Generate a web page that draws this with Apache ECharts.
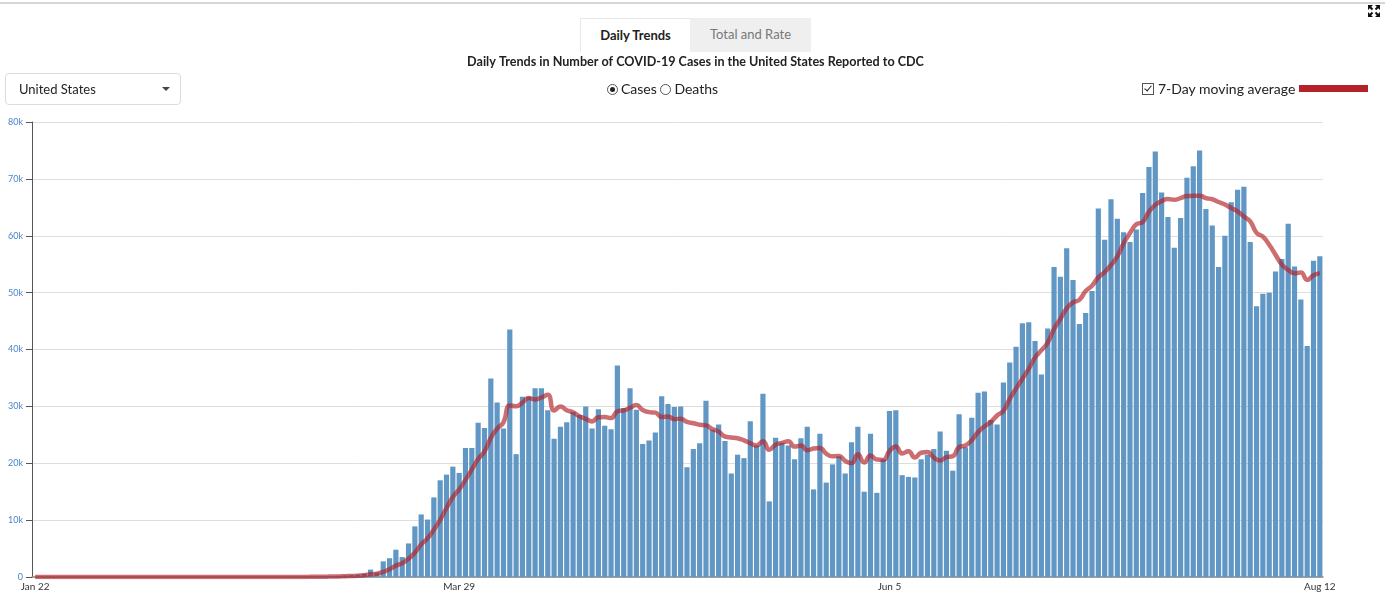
<!DOCTYPE html>
<html>
<head>
<meta charset="utf-8">
<title>Daily Trends in Number of COVID-19 Cases</title>
<script src="https://cdn.jsdelivr.net/npm/echarts@6/dist/echarts.min.js"></script>
<style>
  html, body { margin: 0; padding: 0; background: #fff; }
  body { font-family: Lato, 'Open Sans', sans-serif; color: #333; }
  #page { position: relative; width: 1391px; height: 594px; overflow: hidden; }
  #chart { position: absolute; left: 0; top: 0; width: 1391px; height: 594px; }
  .abs { position: absolute; z-index: 5; }
  .topline { left: 0; top: 2px; width: 1385px; height: 2px; background: #d6d6d6; }
  .tab-on { left: 580px; top: 18px; width: 109px; height: 33px; border: 1px solid #e8e8e8; border-bottom: none;
    background: #fff; font-weight: bold; font-size: 13px; line-height: 33px; text-align: center; color: #222; }
  .tab-off { left: 690px; top: 18px; width: 121px; height: 34px; background: #efefef; color: #777;
    font-size: 13px; line-height: 33px; text-align: center; }
  .select { left: 5px; top: 73px; width: 174px; height: 30px; border: 1px solid #dcdcdc; border-radius: 4px;
    font-size: 13px; line-height: 30px; box-sizing: content-box; }
  .select span { position: absolute; left: 13px; color: #222; }
  .select i { position: absolute; left: 156px; top: 13px; width: 0; height: 0;
    border-left: 4px solid transparent; border-right: 4px solid transparent; border-top: 4px solid #444; }
  .radios { left: 607px; top: 80px; font-size: 14px; line-height: 18px; color: #222; white-space: nowrap; }
  .radio { display: inline-block; width: 9px; height: 9px; border: 1px solid #555; border-radius: 50%;
    vertical-align: -1px; position: relative; margin-right: 3px; }
  .radio.on::after { content: ''; position: absolute; left: 2px; top: 2px; width: 5px; height: 5px;
    border-radius: 50%; background: #222; }
  .avg { left: 1142px; top: 80px; font-size: 14px; line-height: 18px; color: #222; white-space: nowrap; }
  .check { display: inline-block; width: 10px; height: 10px; border: 1px solid #555; vertical-align: -1px;
    position: relative; margin-right: 4px; }
  .check::after { content: ''; position: absolute; left: 3px; top: 0px; width: 3px; height: 6px;
    border-right: 1.6px solid #222; border-bottom: 1.6px solid #222; transform: rotate(40deg); }
  .swatch { left: 1299px; top: 85px; width: 69px; height: 7px; background: #b22228; }
  .expand { left: 1367px; top: 4px; }
</style>
</head>
<body>
<div id="page">
  <div id="chart"></div>
  <div class="abs topline"></div>
  <div class="abs tab-on">Daily Trends</div>
  <div class="abs tab-off">Total and Rate</div>
  <div class="abs select"><span>United States</span><i></i></div>
  <div class="abs radios"><span class="radio on"></span>Cases <span class="radio"></span>Deaths</div>
  <div class="abs avg"><span class="check"></span>7-Day moving average</div>
  <div class="abs swatch"></div>
  <svg class="abs expand" width="14" height="14" viewBox="0 0 14 14">
    <g stroke="#111" stroke-width="2" fill="none">
      <path d="M2 2 L5.5 5.5 M12 2 L8.5 5.5 M2 12 L5.5 8.5 M12 12 L8.5 8.5"/>
    </g>
    <g fill="#111">
      <path d="M1 1 H6 L1 6 Z M13 1 V6 L8 1 Z M1 13 V8 L6 13 Z M13 13 H8 L13 8 Z"/>
    </g>
  </svg>
</div>
<script>
// daily reported cases, Jan 22 - Aug 12 2020
const janCases = [1, 0, 0, 1, 1, 0, 0, 0, 0, 1]
const febCases = [0, 1, 0, 0, 1, 0, 0, 0, 0, 0, 1, 0, 0, 0, 0, 0, 0, 0, 0, 0,
  0, 3, 0, 0, 1, 0, 2, 1, 2]
const marCases = [10, 20, 25, 30, 50, 70, 100, 120, 160, 210, 270, 330, 420, 600, 1300, 800,
  2750, 3300, 4800, 3500, 5900, 8900, 11000, 10100, 14000, 17000, 18000, 19400, 18300, 22700, 22700]
const aprCases = [27100, 26200, 34900, 30700, 26100, 43500, 21600, 31700, 31700, 33200,
  33200, 29300, 24300, 26400, 27200, 29000, 28500, 30000, 26100, 29500,
  26600, 26000, 37200, 29700, 33200, 29400, 23400, 24000, 25400, 31800]
const mayCases = [30400, 29900, 30000, 19300, 22500, 23500, 31000, 25900, 26800, 23900,
  18200, 21500, 20900, 27400, 23100, 32200, 13300, 24500, 23600, 23100,
  20700, 24400, 26400, 15400, 25200, 16600, 19800, 21200, 18200, 23700, 26400]
const junCases = [15000, 25200, 14800, 20700, 29200, 29300, 17900, 17600, 17500, 20700,
  21500, 22500, 25600, 22200, 18700, 28600, 22800, 28000, 32400, 32600,
  27600, 26800, 34200, 37700, 40500, 44600, 44800, 41500, 35600, 43700]
const julCases = [54500, 52800, 57800, 52200, 44500, 46400, 50300, 64800, 59300, 66400,
  63000, 60600, 58900, 61100, 67500, 72100, 74800, 67600, 63300, 57900,
  63100, 70200, 72200, 75000, 64700, 61800, 54500, 60000, 65900, 68100, 68600]
const augCases = [58900, 47600, 49800, 50000, 53700, 55900, 62100, 54600, 48800, 40600, 55600, 56400]

const startDate = [2020, 0, 22]
const tickLabels = ['Jan 22', 'Mar 29', 'Jun 5', 'Aug 12']
const monthNames = ['Jan', 'Feb', 'Mar', 'Apr', 'May', 'Jun', 'Jul', 'Aug', 'Sep', 'Oct', 'Nov', 'Dec']

const cases = [].concat(janCases, febCases, marCases, aprCases, mayCases, junCases, julCases, augCases)

const dates = cases.map((v, i) => {
  const d = new Date(Date.UTC(startDate[0], startDate[1], startDate[2] + i))
  return monthNames[d.getUTCMonth()] + ' ' + d.getUTCDate()
})

// 7-day moving average (trailing window)
const movingAvg = cases.map((v, i) => {
  const win = cases.slice(Math.max(0, i - 6), i + 1)
  return Math.round(win.reduce((a, b) => a + b, 0) / win.length)
})

const showTick = (idx, label) => tickLabels.indexOf(dates[idx]) !== -1

const chart = echarts.init(document.getElementById('chart'))
chart.setOption({
  animation: false,
  textStyle: { fontFamily: 'Lato, sans-serif' },
  title: {
    text: 'Daily Trends in Number of COVID-19 Cases in the United States Reported to CDC',
    left: 'center',
    top: 50,
    textStyle: { fontSize: 12.6, fontWeight: 'bold', color: '#222', fontFamily: 'Lato' }
  },
  tooltip: { trigger: 'axis' },
  grid: { left: 32, right: 68, top: 122, bottom: 17, containLabel: false },
  xAxis: {
    type: 'category',
    data: dates,
    boundaryGap: true,
    axisLine: { lineStyle: { color: '#8a8a8a', width: 1.5 } },
    axisTick: { alignWithLabel: true, interval: showTick, length: 4, lineStyle: { color: '#333' } },
    axisLabel: { interval: showTick, color: '#333', fontSize: 10, margin: 5 }
  },
  yAxis: {
    type: 'value',
    min: 0,
    max: 80000,
    interval: 10000,
    axisLine: { show: true, lineStyle: { color: '#555' } },
    axisTick: { show: true, length: 6, lineStyle: { color: '#555' } },
    axisLabel: {
      color: '#4a86c8',
      fontSize: 9,
      margin: 9,
      formatter: v => v === 0 ? '0' : (v / 1000) + 'k'
    },
    splitLine: { lineStyle: { color: '#dedede' } }
  },
  series: [
    {
      name: 'Cases',
      type: 'bar',
      data: cases,
      barCategoryGap: '18%',
      itemStyle: { color: '#6197c4' }
    },
    {
      name: '7-Day moving average',
      type: 'line',
      data: movingAvg,
      smooth: true,
      symbol: 'none',
      lineStyle: { color: '#b22228', width: 4.5, opacity: 0.66 },
      z: 3
    }
  ]
})
</script>
</body>
</html>
